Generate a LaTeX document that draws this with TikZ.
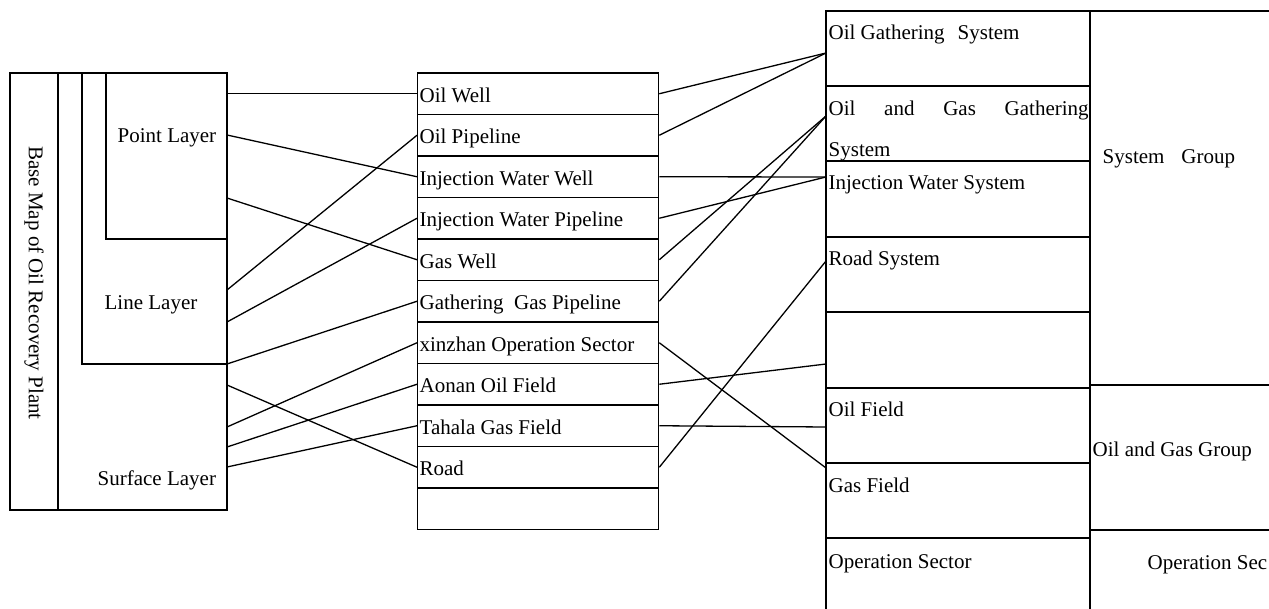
\documentclass[tikz,border=0pt]{standalone}
\usepackage{fontspec}
\setmainfont{Liberation Serif}
\begin{document}
\begin{tikzpicture}[x=1pt,y=-1pt,line width=1.3pt,
  every node/.style={font=\fontsize{21}{25}\selectfont},
  lbl/.style={anchor=base west,inner sep=0pt},
  row/.style={draw,anchor=west,minimum width=241pt,minimum height=41.5pt,
    text width=237pt,inner xsep=2pt,inner ysep=0pt,align=flush left,
    text height=21pt,text depth=4pt}]
\useasboundingbox (0,0) rectangle (1269,609);
\clip (0,0) rectangle (1269,609);
% left block
\draw (10,73) rectangle (227,510);
\draw (58,73) -- (58,510);
\draw (82,73) -- (82,364) -- (227,364);
\draw (106,73) -- (106,239) -- (227,239);
\node[rotate=-90] (base) at (34,283) {Base Map of Oil Recovery Plant};
\node[lbl] (point) at (117,143) {Point Layer};
\node[lbl] (line) at (104,310) {Line Layer};
\node[lbl] (surface) at (97,485) {Surface Layer};
% middle block
\node[row] (ow) at (417,93.75) {Oil Well};
\node[row] (op) at (417,135.25) {Oil Pipeline};
\node[row] (iww) at (417,176.75) {Injection Water Well};
\node[row] (iwp) at (417,218.25) {Injection Water Pipeline};
\node[row] (gw) at (417,259.75) {Gas Well};
\node[row] (ggp) at (417,301.25) {Gathering~~Gas Pipeline};
\node[row] (xz) at (417,342.75) {xinzhan Operation Sector};
\node[row] (ao) at (417,384.25) {Aonan Oil Field};
\node[row] (th) at (417,425.75) {Tahala Gas Field};
\node[row] (rd) at (417,467.25) {Road};
\node[row] (blank) at (417,508.75) {};
% right block
\draw (826,620) -- (826,11) -- (1280,11);
\draw (1090,11) -- (1090,620);
\foreach \y in {86,161,237,312,388,463,538}
  \draw (826,\y) -- (1090,\y);
\draw (1090,385) -- (1280,385);
\draw (1090,530) -- (1280,530);
\node[lbl] (ogs) at (828,40) {Oil Gathering\hspace{13pt}System};
\node[lbl] (oggs) at (828,116) {\makebox[260pt][s]{Oil and Gas Gathering}};
\node[lbl] (oggs2) at (828,157) {System};
\node[lbl] (iws) at (828,190) {Injection Water System};
\node[lbl] (rs) at (828,266) {Road System};
\node[lbl] (of) at (828,417) {Oil Field};
\node[lbl] (gf) at (828,492) {Gas Field};
\node[lbl] (os) at (828,568) {Operation Sector};
\node[lbl] (sg) at (1102,164) {System\hspace{17pt}Group};
\node[lbl] (og) at (1092,456) {Oil and Gas Group};
\node[lbl] (os2) at (1147,569) {Operation Sec};
% connector ends
\coordinate (pa) at (227,93.75);
\coordinate (pb) at (227,135);
\coordinate (pc) at (227,198);
\coordinate (la) at (227,290);
\coordinate (lb) at (227,322);
\coordinate (lc) at (227,364);
\coordinate (sa) at (227,385);
\coordinate (sb) at (227,427);
\coordinate (sc) at (227,447);
\coordinate (sd) at (227,467);
\coordinate (ogsin) at (826,53);
\coordinate (oggsin) at (826,116);
\coordinate (iwsin) at (826,177);
\coordinate (rsin) at (826,261);
\coordinate (emin) at (826,364);
\coordinate (ofin) at (826,427);
\coordinate (gfin) at (826,468);
% layers to features
\draw (pa) -- (ow.west);
\draw (pb) -- (iww.west);
\draw (pc) -- (gw.west);
\draw (la) -- (op.west);
\draw (lb) -- (iwp.west);
\draw (lc) -- (ggp.west);
\draw (sa) -- (rd.west);
\draw (sb) -- (xz.west);
\draw (sc) -- (ao.west);
\draw (sd) -- (th.west);
% features to systems
\draw (ow.east) -- (ogsin);
\draw (op.east) -- (ogsin);
\draw (iww.east) -- (iwsin);
\draw (iwp.east) -- (iwsin);
\draw (gw.east) -- (oggsin);
\draw (ggp.east) -- (oggsin);
\draw (xz.east) -- (gfin);
\draw (ao.east) -- (emin);
\draw (th.east) -- (ofin);
\draw (rd.east) -- (rsin);
\end{tikzpicture}
\end{document}
